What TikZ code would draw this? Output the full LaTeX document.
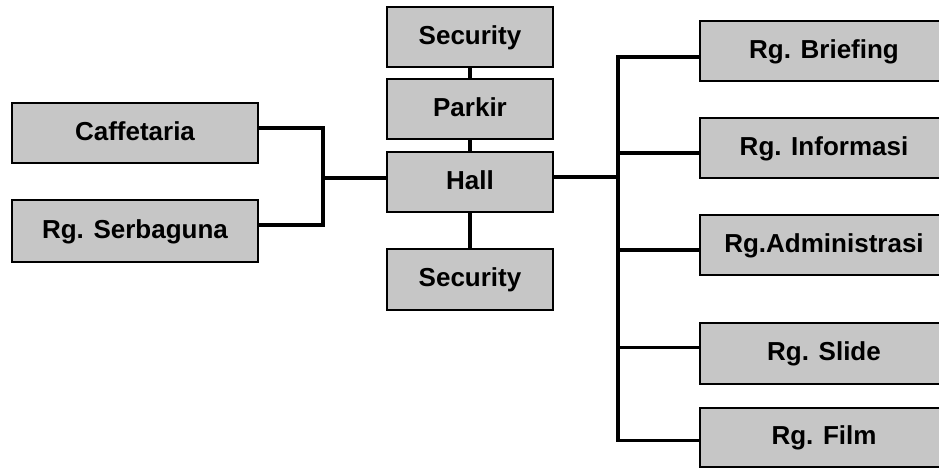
\documentclass[tikz,border=0pt]{standalone}
\usepackage{fontspec}
\setmainfont{Liberation Sans}
\definecolor{boxfill}{HTML}{C6C6C6}
\begin{document}
\begin{tikzpicture}[x=1pt,y=-1pt,
  room/.style={draw=black,line width=2.2pt,fill=boxfill,inner sep=0pt,
    font=\fontsize{26}{30}\selectfont\bfseries,text height=19pt,text depth=5pt},
  wide/.style={room,minimum width=246pt,minimum height=60pt},
  mid/.style={room,minimum width=166pt,minimum height=60pt},
  right/.style={room,minimum width=248pt,minimum height=60pt},
  link/.style={line width=3.6pt}]
\useasboundingbox (0,0) rectangle (939,469);
\clip (0,0) rectangle (939,469);
% left
\node[wide] (caf) at (135,133) {Caffetaria};
\node[wide,minimum height=62pt] (serba) at (135,231) {Rg. Serbaguna};
% centre column
\node[mid] (sec1) at (470,37) {Security};
\node[mid] (parkir) at (470,109) {Parkir};
\node[mid] (hall) at (470,182) {Hall};
\node[mid,minimum height=61pt] (sec2) at (470,279.5) {Security};
% right column
\node[right] (brief) at (824,51) {Rg. Briefing};
\node[right] (info) at (824,148) {Rg. Informasi};
\node[right] (adm) at (824,245) {Rg.Administrasi};
\node[right,minimum height=61pt] (slide) at (824,353.5) {Rg. Slide};
\node[right,minimum height=59pt] (film) at (824,437.5) {Rg. Film};
% junctions
\coordinate (jl) at (323,178);
\coordinate (jr) at (618,177);
% left connectors
\draw[link] ([yshift=5pt]caf.east) -| (jl);
\draw[link] ([yshift=6pt]serba.east) -| (jl);
\draw[link] (jl) -- ([yshift=4pt]hall.west);
% centre connectors
\draw[link] (sec1.south) -- (parkir.north);
\draw[link] (parkir.south) -- (hall.north);
\draw[link] (hall.south) -- (sec2.north);
% right connectors
\draw[link] ([yshift=5pt]hall.east) -- (jr);
\draw[link] ([yshift=-6pt]brief.west) -| (jr);
\draw[link] ([yshift=-5pt]info.west) -| (jr);
\draw[link] ([yshift=-5pt]adm.west) -| (jr);
\draw[link] ([yshift=6pt]slide.west) -| (jr);
\draw[link] ([yshift=-3pt]film.west) -| (jr);
\end{tikzpicture}
\end{document}
